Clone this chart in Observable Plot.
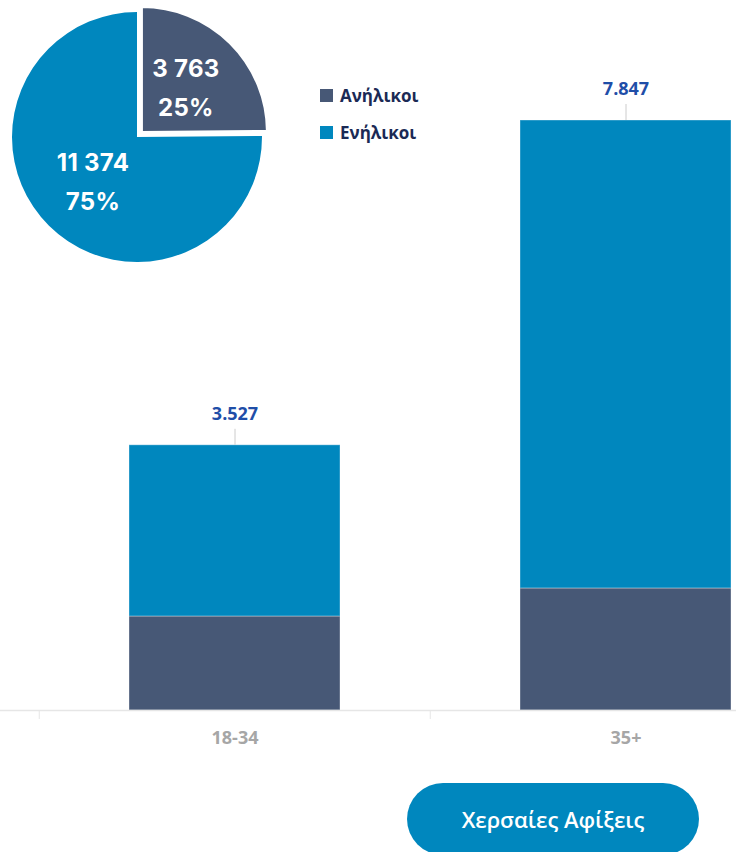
<!DOCTYPE html>
<html>
<head>
<meta charset="utf-8">
<script src="https://cdn.jsdelivr.net/npm/d3@7"></script>
<script src="https://cdn.jsdelivr.net/npm/@observablehq/plot@0.6"></script>
<style>
  html, body { margin: 0; padding: 0; background: #fff; }
  #wrap { position: relative; width: 736px; height: 852px; overflow: hidden; }
  #chart { position: absolute; left: 0; top: 0; }
  #legend { position: absolute; left: 320px; top: 83px; font-family: "Open Sans", sans-serif; font-weight: 700; font-size: 17px; color: #1b2a55; }
  .item { display: flex; align-items: center; height: 24px; margin-bottom: 13px; }
  .sw { width: 13px; height: 13px; margin-right: 7px; }
  #btn { position: absolute; left: 407px; top: 783px; width: 292px; height: 72px; border-radius: 36px; background: #0087BE; color: #fff;
         font-family: "Open Sans", sans-serif; font-weight: 600; font-size: 22px; display: flex; align-items: center; justify-content: center; padding-bottom: 0px; box-sizing: border-box; }
</style>
</head>
<body>
<div id="wrap">
  <div id="chart"></div>
  <div id="legend"></div>
  <div id="btn">Χερσαίες Αφίξεις</div>
</div>
<script>
const ages = ["18-34", "35+"];
const groups = ["Ανήλικοι", "Ενήλικοι"];
const colors = ["#475876", "#0087BE"];
const minors = [1250, 1623];
const adults = [2277, 6224];
const totals = [3527, 7847];
const totalLabels = ["3.527", "7.847"];
const pieValues = [3763, 11374];
const pieLabels = ["3 763", "11 374"];
const piePercents = ["25%", "75%"];

const barData = [];
ages.forEach((a, i) => {
  barData.push({age: a, group: groups[0], value: minors[i]});
  barData.push({age: a, group: groups[1], value: adults[i]});
});
const totalData = ages.map((a, i) => ({age: a, total: totals[i], label: totalLabels[i]}));

function pieMark() {
  const cx = 137, cy = 137, r = 125, explode = 7;
  const g = d3.create("svg:g");
  const arcs = d3.pie().sort(null)(pieValues);
  const arc = d3.arc().innerRadius(0).outerRadius(r);
  arcs.forEach((a, i) => {
    const mid = (a.startAngle + a.endAngle) / 2;
    const off = i === 0 ? explode : 0;
    const ox = cx + Math.sin(mid) * off, oy = cy - Math.cos(mid) * off;
    const sg = g.append("g").attr("transform", `translate(${ox},${oy})`);
    sg.append("path").attr("d", arc(a)).attr("fill", colors[i])
      .attr("stroke", "#fff").attr("stroke-width", i === 0 ? 2 : 0);
    const [tx, ty] = arc.centroid(a);
    const t = sg.append("text").attr("text-anchor", "middle")
      .attr("font-family", "Inter, sans-serif").attr("font-weight", 700)
      .attr("font-size", 24).attr("fill", "#fff").attr("letter-spacing", "0.3px");
    t.append("tspan").attr("x", tx).attr("y", ty - 19).attr("dy", "0.35em").text(pieLabels[i]);
    t.append("tspan").attr("x", tx).attr("y", ty + 20).attr("dy", "0.35em").text(piePercents[i]);
  });
  return g.node();
}

const plot = Plot.plot({
  width: 736,
  height: 770,
  marginTop: 0,
  marginBottom: 60,
  marginLeft: 0,
  marginRight: 0,
  style: {fontFamily: "Open Sans, sans-serif", background: "transparent", overflow: "hidden"},
  x: {domain: ages, range: [-52, 911.5], padding: 0.461, label: null},
  y: {domain: [0, 9443], axis: null},
  color: {domain: groups, range: colors},
  marks: [
    Plot.barY(barData, {x: "age", y: "value", fill: "group", stroke: "#ffffff", strokeOpacity: 0.35, strokeWidth: 1}),
    Plot.ruleY([0], {stroke: "#e6e6e6", strokeWidth: 1.5}),
    Plot.axisX({tickSize: 9, tickFormat: () => "", dx: -195.75, stroke: "#e6e6e6", label: null}),
    Plot.axisX({tickSize: 0, tickPadding: 21, fontSize: 18, fontWeight: 700, fill: "#a6a6a6", label: null}),
    Plot.ruleX(totalData, {x: "age", y1: "total", y2: "total", insetBottom: 16, stroke: "#cccccc"}),
    Plot.text(totalData, {x: "age", y: "total", text: "label", dy: -31, fill: "#1f4ea8", fontWeight: 700, fontSize: 18}),
    pieMark
  ]
});
document.getElementById("chart").appendChild(plot);

const legend = document.getElementById("legend");
groups.forEach((g, i) => {
  const it = document.createElement("div");
  it.className = "item";
  const sw = document.createElement("span");
  sw.className = "sw";
  sw.style.background = colors[i];
  const tx = document.createElement("span");
  tx.textContent = g;
  it.appendChild(sw);
  it.appendChild(tx);
  legend.appendChild(it);
});
</script>
</body>
</html>
